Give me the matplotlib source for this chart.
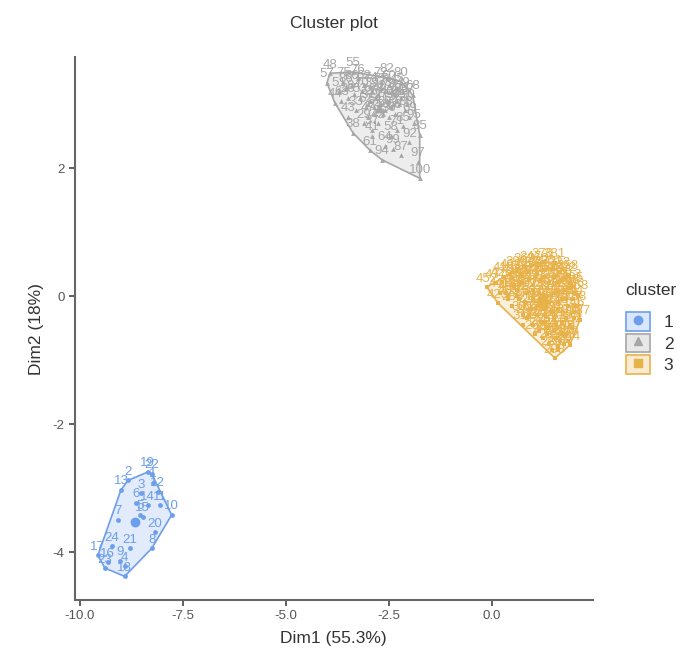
import numpy as np
import matplotlib.pyplot as plt
from matplotlib.patches import Patch
from matplotlib.lines import Line2D

plt.rcParams['font.family'] = ['Liberation Sans', 'DejaVu Sans']

# cluster 1 (rows 1..24)
c1_x = [-8.23, -8.83, -8.52, -8.91, -8.54, -8.64, -9.08, -8.25, -9.03, -7.77, -8.06, -8.11,
        -9.00, -8.35, -8.47, -9.32, -9.56, -8.91, -8.35, -8.18, -8.79, -8.25, -9.39, -9.22]
c1_y = [-2.92, -2.88, -3.08, -4.22, -3.42, -3.23, -3.50, -3.94, -4.14, -3.42, -3.27, -3.06,
        -3.03, -3.27, -3.45, -4.16, -4.05, -4.38, -2.75, -3.69, -3.94, -2.78, -4.25, -3.91]
c1_lab = [str(i) for i in range(1, 25)]

# cluster 2
c2_x = [-4.00, -3.81, -3.37, -2.96, -2.67, -1.75, -1.75, -1.92, -2.55, -3.37, -3.93,
        -3.70, -3.50, -3.30, -3.10, -2.90, -2.60, -2.20, -2.00, -1.80, -2.30, -2.50, -2.70,
        -2.90, -3.10, -2.80, -2.60, -2.40, -2.20, -2.10, -2.00, -2.30, -3.00, -3.20, -3.40,
        -3.60, -2.75, -2.45, -2.15, -1.90, -2.60, -2.85, -3.00, -2.50, -2.70, -2.20, -3.25,
        -2.35, -2.05, -2.90, -2.40, -3.50, -3.65,
        -2.95, -2.75, -2.55, -2.35, -2.15, -3.05, -2.85, -2.65, -2.45, -2.25, -2.05,
        -3.15, -2.95, -2.70, -2.50, -2.30, -3.35, -3.55]
c2_y = [3.33, 3.02, 2.55, 2.28, 2.13, 1.84, 2.52, 3.14, 3.41, 3.50, 3.48,
        3.20, 3.10, 2.90, 2.70, 2.50, 2.35, 2.20, 2.40, 2.10, 2.60, 2.80, 3.00,
        3.20, 3.30, 3.10, 3.20, 3.00, 3.10, 2.90, 2.80, 3.25, 3.00, 3.10, 3.30,
        3.35, 2.70, 2.50, 2.65, 2.70, 2.90, 2.85, 2.80, 3.30, 3.35, 3.35, 3.40,
        2.85, 3.00, 2.60, 2.30, 2.80, 3.05,
        3.05, 3.15, 3.05, 3.15, 3.20, 2.95, 2.95, 2.85, 2.95, 3.00, 3.10,
        3.20, 3.28, 3.25, 3.18, 3.05, 3.15, 3.25]
c2_lab = ['57', '44', '38', '61', '94', '100', '35', '68', '82', '55', '48',
          '51', '26', '33', '29', '41', '64', '87', '92', '97', '71', '36', '27',
          '39', '62', '78', '73', '30', '83', '88', '69', '45', '31', '53', '66',
          '75', '42', '58', '85', '95', '28', '34', '47', '60', '72', '80', '76',
          '50', '90', '37', '99', '43', '63',
          '25', '32', '40', '46', '49', '52', '54', '56', '59', '65', '67',
          '70', '74', '77', '79', '81', '84', '86']

# cluster 3
c3_x = [1.24, -0.12, 0.15, 0.75, 1.53, 1.89, 2.14, 2.09, 1.84, 1.53,
        0.10, 0.30, 0.45, 0.60, 0.80, 0.95, 1.10, 1.30, 1.45, 1.65, 1.80, 1.95,
        0.35, 0.55, 0.70, 0.90, 1.05, 1.20, 1.40, 1.60, 1.75, 1.95,
        0.50, 0.65, 0.85, 1.00, 1.15, 1.35, 1.50, 1.70, 1.85, 2.00,
        0.75, 0.95, 1.10, 1.25, 1.45, 1.60, 1.80, 1.95,
        1.00, 1.20, 1.35, 1.55, 1.70, 1.85,
        1.25, 1.40, 1.60, 1.75, 0.40, 0.85, 1.05, 1.30, 1.55, 0.20, 0.60, 1.00,
        0.25, 0.50, 0.70, 0.90, 1.10, 1.30, 1.50, 1.70, 1.90, 2.00,
        0.40, 0.60, 0.80, 1.00, 1.20, 1.40, 1.60, 1.80, 2.05,
        0.90, 1.10, 1.30, 1.50, 1.70, 1.90, 2.00,
        1.15, 1.35, 1.50, 1.65, 1.80, 1.45, 1.60, 1.75,
        0.65, 1.00, 1.35, 1.60, 1.85, 1.25]
c3_y = [0.53, 0.14, -0.11, -0.45, -0.97, -0.77, -0.37, 0.02, 0.33, 0.52,
        0.20, 0.30, 0.35, 0.40, 0.45, 0.48, 0.45, 0.40, 0.42, 0.38, 0.30, 0.15,
        0.05, 0.15, 0.20, 0.25, 0.30, 0.25, 0.20, 0.22, 0.10, -0.05,
        -0.15, -0.05, 0.05, 0.10, 0.05, 0.00, 0.05, -0.05, -0.15, -0.25,
        -0.30, -0.20, -0.15, -0.20, -0.25, -0.20, -0.35, -0.50,
        -0.45, -0.40, -0.50, -0.45, -0.60, -0.70,
        -0.65, -0.75, -0.85, -0.60, 0.00, -0.35, -0.60, -0.30, -0.65, 0.05, 0.10, -0.05,
        0.22, 0.28, 0.32, 0.38, 0.35, 0.30, 0.30, 0.25, 0.20, 0.05,
        -0.05, 0.00, -0.10, -0.05, -0.10, -0.10, -0.10, -0.05, -0.15,
        -0.30, -0.30, -0.40, -0.35, -0.40, -0.45, -0.35,
        -0.55, -0.60, -0.55, -0.70, -0.60, -0.85, -0.80, -0.75,
        0.22, 0.18, 0.12, 0.08, 0.12, 0.02]
c3_lab = ['376', '452', '423', '311', '298', '244', '187', '163', '358', '381',
          '437', '415', '402', '390', '369', '347', '366', '372', '361', '333', '322', '205',
          '418', '409', '395', '384', '355', '341', '329', '317', '266', '214',
          '288', '276', '301', '254', '239', '226', '212', '199', '178', '145',
          '305', '292', '283', '271', '260', '248', '191', '152',
          '285', '273', '262', '232', '221', '170',
          '247', '235', '257', '198', '430', '296', '268', '219', '209', '441', '398', '337',
          '426', '411', '399', '387', '364', '352', '344', '326', '313', '186',
          '405', '392', '379', '307', '294', '281', '250', '229', '158',
          '302', '289', '278', '243', '216', '194', '167',
          '280', '264', '241', '224', '201', '230', '237', '208',
          '394', '360', '339', '320', '308', '270']

clusters = ['1', '2', '3']
colors = ['#6d9eeb', '#a6a6a6', '#e8b24a']
markers = ['o', '^', 's']


def hull(px, py):
    pts = sorted(set(zip(px, py)))
    def cross(o, a, b):
        return (a[0] - o[0]) * (b[1] - o[1]) - (a[1] - o[1]) * (b[0] - o[0])
    lower, upper = [], []
    for p in pts:
        while len(lower) >= 2 and cross(lower[-2], lower[-1], p) <= 0:
            lower.pop()
        lower.append(p)
    for p in reversed(pts):
        while len(upper) >= 2 and cross(upper[-2], upper[-1], p) <= 0:
            upper.pop()
        upper.append(p)
    h = lower[:-1] + upper[:-1]
    return [p[0] for p in h], [p[1] for p in h]


fig = plt.figure(figsize=(6.99, 6.66), dpi=100)
ax = fig.add_axes([0.107, 0.099, 0.741, 0.815])

data = [(c1_x, c1_y, c1_lab), (c2_x, c2_y, c2_lab), (c3_x, c3_y, c3_lab)]
for (xs, ys, labs), col, mk in zip(data, colors, markers):
    hx, hy = hull(xs, ys)
    ax.fill(hx, hy, facecolor=col, alpha=0.2, edgecolor='none', zorder=1)
    ax.fill(hx, hy, facecolor='none', edgecolor=col, lw=1.2, zorder=2)
    ax.scatter(xs, ys, s=12, marker=mk, color=col, zorder=3, linewidths=0)
    for x, y, t in zip(xs, ys, labs):
        ax.text(x, y + 0.04, t, color=col, fontsize=9.5, ha='center', va='bottom', zorder=4)
    ax.scatter([np.mean(xs)], [np.mean(ys)], s=50, marker=mk, color=col, zorder=5, linewidths=0)

ax.set_xlim(-10.12, 2.45)
ax.set_ylim(-4.75, 3.73)
ax.set_xticks([-10.0, -7.5, -5.0, -2.5, 0.0])
ax.set_xticklabels(['-10.0', '-7.5', '-5.0', '-2.5', '0.0'])
ax.set_yticks([-4, -2, 0, 2])
ax.set_yticklabels(['-4', '-2', '0', '2'])
for s in ['top', 'right']:
    ax.spines[s].set_visible(False)
for s in ['left', 'bottom']:
    ax.spines[s].set_color('#666666')
    ax.spines[s].set_linewidth(1.5)
ax.tick_params(colors='#444444', labelsize=9.5, length=4, width=1.2)
ax.tick_params(axis='both', labelcolor='#555555')

ax.set_xlabel('Dim1 (55.3%)', fontsize=12.5, color='#333333', labelpad=6)
ax.set_ylabel('Dim2 (18%)', fontsize=12.5, color='#333333', labelpad=6)
ax.set_title('Cluster plot', fontsize=12.5, color='#333333', pad=21)

handles = []
for col, mk in zip(colors, markers):
    box = Patch(facecolor=col, alpha=0.25, edgecolor='none')
    edge = Patch(facecolor='none', edgecolor=col, lw=1.2)
    pt = Line2D([], [], marker=mk, color=col, ls='none', markersize=6)
    handles.append((box, edge, pt))
leg = fig.legend(handles, clusters, title='cluster', loc='upper left',
                 bbox_to_anchor=(0.885, 0.585), frameon=False, fontsize=12.5,
                 title_fontsize=12.5, handlelength=1.4, handleheight=1.25,
                 handletextpad=0.8, labelspacing=0.18, borderaxespad=0)
leg.get_title().set_color('#333333')
leg._legend_box.align = 'left'
leg._legend_box.sep = 10
for t in leg.get_texts():
    t.set_color('#333333')

fig.savefig('out.png', dpi=100, facecolor='white')
